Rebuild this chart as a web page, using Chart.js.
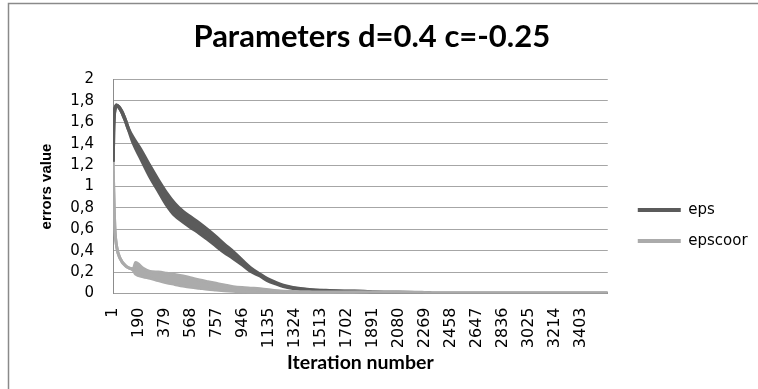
<!DOCTYPE html>
<html><head><meta charset="utf-8">
<script src="https://cdn.jsdelivr.net/npm/chart.js@4.4.1/dist/chart.umd.min.js"></script>
<style>html,body{margin:0;padding:0;background:#fff}</style>
</head><body>
<canvas id="c" width="758" height="389"></canvas>
<script>
const titleText = 'Parameters d=0.4 c=-0.25';
const yAxisTitle = 'errors value';
const xAxisTitle = 'Iteration number';
const seriesNames = ['eps', 'epscoor'];
const xTickLabels = [1,190,379,568,757,946,1135,1324,1513,1702,1891,2080,2269,2458,2647,2836,3025,3214,3403];
const yTickLabels = ['0','0,2','0,4','0,6','0,8','1','1,2','1,4','1,6','1,8','2'];
const iterationCount = 3600;

// eps: the line oscillates, so it is read as an upper and a lower envelope
const epsIter  = [1, 4, 8, 14, 27, 45, 64, 90, 112, 150, 200, 270, 330, 390, 450, 510, 570, 630, 690, 750, 810, 875, 940, 1000, 1070, 1120, 1190, 1240, 1310, 1430, 1550, 1700, 1850, 1900, 2200, 2320, 3000, 3600];
const epsUpper = [1.23, 1.5, 1.65, 1.72, 1.76, 1.74, 1.70, 1.62, 1.54, 1.45, 1.35, 1.19, 1.06, 0.94, 0.84, 0.765, 0.71, 0.656, 0.595, 0.53, 0.46, 0.39, 0.31, 0.24, 0.18, 0.14, 0.10, 0.075, 0.055, 0.036, 0.027, 0.021, 0.017, 0.011, 0.008, 0.001, 0.001, 0.001];
const epsLower = [1.23, 1.5, 1.65, 1.72, 1.76, 1.74, 1.70, 1.62, 1.54, 1.40, 1.27, 1.09, 0.96, 0.83, 0.73, 0.67, 0.615, 0.563, 0.505, 0.445, 0.385, 0.33, 0.27, 0.21, 0.165, 0.125, 0.09, 0.068, 0.05, 0.032, 0.024, 0.019, 0.016, 0.011, 0.008, 0.001, 0.001, 0.001];

// epscoor envelopes
const coorIter  = [1, 8, 15, 27, 51, 100, 148, 165, 220, 270, 330, 390, 450, 510, 570, 630, 690, 750, 810, 875, 940, 1000, 1070, 1200, 1310, 1450, 1600, 1800, 2000, 2250, 2320, 2600, 3000, 3600];
const coorUpper = [1.23, 0.85, 0.59, 0.44, 0.33, 0.25, 0.23, 0.29, 0.235, 0.205, 0.20, 0.19, 0.178, 0.164, 0.145, 0.126, 0.11, 0.095, 0.08, 0.064, 0.055, 0.05, 0.045, 0.025, 0.018, 0.015, 0.014, 0.014, 0.013, 0.012, 0.003, 0.002, 0.002, 0.002];
const coorLower = [1.23, 0.85, 0.59, 0.44, 0.33, 0.25, 0.215, 0.18, 0.157, 0.142, 0.12, 0.10, 0.085, 0.07, 0.058, 0.049, 0.04, 0.033, 0.026, 0.02, 0.015, 0.01, 0.006, 0.006, 0.008, 0.009, 0.010, 0.011, 0.010, 0.010, 0.003, 0.002, 0.002, 0.002];

const epsColor = '#5b5b5b';
const coorColor = '#ababab';

const toPoints = (xs, ys) => xs.map((x, i) => ({x: x, y: ys[i]}));

const framePlugin = {
  id: 'frame',
  afterLayout(chart) {
    // move the legend block to where the reference has it
    const lg = chart.legend;
    lg.left += 14; lg.right += 14;
    lg.top += 31; lg.bottom += 31;
  },
  beforeDraw(chart) {
    const ctx = chart.ctx;
    ctx.save();
    ctx.fillStyle = '#ffffff';
    ctx.fillRect(0, 0, chart.width, chart.height);
    ctx.strokeStyle = '#8a8a8a';
    ctx.lineWidth = 1.5;
    ctx.beginPath();
    ctx.moveTo(8.5, chart.height);
    ctx.lineTo(8.5, 3.5);
    ctx.lineTo(chart.width, 3.5);
    ctx.stroke();
    ctx.restore();
  }
};

new Chart(document.getElementById('c'), {
  type: 'line',
  data: {
    datasets: [
      { label: seriesNames[0], data: toPoints(epsIter, epsUpper), borderColor: epsColor, backgroundColor: epsColor,
        borderWidth: 3.5, pointRadius: 0, fill: false, order: 1, cubicInterpolationMode: 'monotone' },
      { label: '', data: toPoints(epsIter, epsLower), borderColor: epsColor, backgroundColor: epsColor,
        borderWidth: 3.5, pointRadius: 0, fill: '-1', order: 1, cubicInterpolationMode: 'monotone' },
      { label: seriesNames[1], data: toPoints(coorIter, coorUpper), borderColor: coorColor, backgroundColor: coorColor,
        borderWidth: 3, pointRadius: 0, fill: false, order: 0, cubicInterpolationMode: 'monotone' },
      { label: '', data: toPoints(coorIter, coorLower), borderColor: coorColor, backgroundColor: coorColor,
        borderWidth: 3, pointRadius: 0, fill: '-1', order: 0, cubicInterpolationMode: 'monotone' }
    ]
  },
  options: {
    responsive: false,
    animation: false,
    devicePixelRatio: 1,
    layout: { padding: { left: 0, right: 14.4, top: 0, bottom: 0 } },
    plugins: {
      tooltip: { enabled: false },
      title: {
        display: true, text: titleText, color: '#000',
        font: { family: 'Lato', weight: 'bold', size: 31 },
        padding: { top: 18, bottom: 24.3 }
      },
      legend: {
        position: 'right',
        labels: {
          color: '#000',
          font: { family: 'DejaVu Sans', size: 15 },
          boxWidth: 43, boxHeight: 4, padding: 16,
          sort: (a, b) => a.datasetIndex - b.datasetIndex,
          filter: (item) => item.text !== '',
          generateLabels: (chart) => Chart.defaults.plugins.legend.labels.generateLabels(chart)
            .map(it => Object.assign(it, { lineWidth: 0, fillStyle: it.strokeStyle }))
        }
      }
    },
    scales: {
      x: {
        type: 'linear',
        min: 0.5, max: iterationCount + 0.5,
        afterBuildTicks: (scale) => { scale.ticks = xTickLabels.map(v => ({ value: v })); },
        afterFit: (scale) => { scale.height = 95.5; },
        grid: { display: false, drawTicks: false },
        border: { display: true, color: '#a0a0a0', width: 1 },
        ticks: {
          autoSkip: false, minRotation: 90, maxRotation: 90, padding: 14,
          color: '#000', font: { family: 'DejaVu Sans', size: 16 },
          callback: (v) => String(v)
        },
        title: {
          display: true, text: xAxisTitle, color: '#000',
          font: { family: 'Lato', weight: 'bold', size: 19.5 },
          padding: { top: 0, bottom: 14.5 }
        }
      },
      y: {
        min: 0, max: 2,
        afterFit: (scale) => { scale.width = 113; },
        grid: { color: '#a6a6a6', lineWidth: 1, drawTicks: false },
        border: { display: true, color: '#8c8c8c', width: 1 },
        ticks: {
          stepSize: 0.2, padding: 19,
          color: '#000', font: { family: 'DejaVu Sans', size: 15 },
          callback: (v) => yTickLabels[Math.round(v / 0.2)]
        },
        title: {
          display: true, text: yAxisTitle, color: '#000',
          font: { family: 'Liberation Sans', weight: 'bold', size: 15 },
          padding: { top: 38, bottom: 0 }
        }
      }
    }
  },
  plugins: [framePlugin]
});
</script>
</body></html>
